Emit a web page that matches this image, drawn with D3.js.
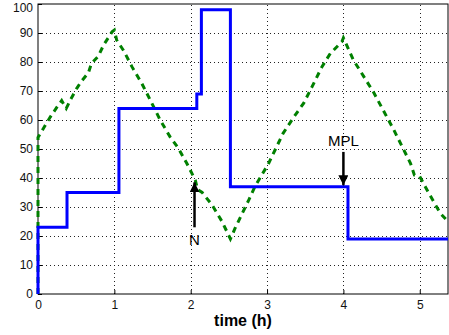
<!DOCTYPE html>
<html>
<head>
<meta charset="utf-8">
<script src="https://cdn.jsdelivr.net/npm/d3@7"></script>
<style>
  body { margin: 0; background: #fff; }
  svg { display: block; font-family: "Liberation Sans", Arial, sans-serif; }
</style>
</head>
<body>
<div id="chart"></div>
<script>
// tick labels
const xTicks = [0, 1, 2, 3, 4, 5];
const yTicks = [0, 10, 20, 30, 40, 50, 60, 70, 80, 90, 100];

// blue staircase (step after)
const blueTime = [0, 0, 0.38, 1.06, 2.08, 2.14, 2.52, 4.06, 5.37];
const blueValue = [0, 23, 35, 64, 69, 98, 37, 19, 19];

// green dashed curve
const greenTime = [0, 0, 0.16, 0.25, 0.31, 0.37, 0.44, 0.51, 0.57, 0.66, 0.70, 0.79, 0.86, 0.97, 1.0,
  1.03, 1.12, 1.23, 1.36, 1.47, 1.60, 1.73, 1.84, 1.95, 2.06, 2.09, 2.15, 2.28, 2.41, 2.52,
  2.58, 2.76, 2.84, 3.02, 3.21, 3.35, 3.48, 3.59, 3.72, 3.83, 3.98, 4.0,
  4.13, 4.39, 4.66, 4.88, 4.93, 5.0, 5.12, 5.27, 5.37];
const greenValue = [0, 54, 61, 64.5, 66.7, 64, 67.7, 71, 73.4, 76.3, 79.5, 82, 85.9, 90.4, 91,
  87.6, 84, 78.4, 72.6, 66.9, 60, 54.2, 50.2, 45, 39.3, 36, 35, 30.7, 25, 19,
  22.6, 32.4, 37, 45, 55.4, 61, 65.8, 71.5, 78.4, 83, 87, 88.3,
  80.7, 69.8, 56.6, 45, 41, 40.5, 34.7, 27.8, 25];

// annotations
const notes = [
  { label: 'N', t: 2.05, from: 23, to: 38.5, textAt: 17 },
  { label: 'MPL', t: 4.0, from: 49, to: 37.5, textAt: 51 }
];

const width = 449, height = 335;
const margin = { top: 4, right: 1, bottom: 41, left: 38 };

const svg = d3.select('#chart').append('svg')
  .attr('width', width)
  .attr('height', height);

const x = d3.scaleLinear().domain([0, 5.37]).range([margin.left, width - margin.right]);
const y = d3.scaleLinear().domain([0, 100]).range([height - margin.bottom, margin.top]);

svg.append('defs').append('marker')
  .attr('id', 'head')
  .attr('viewBox', '0 0 10 10')
  .attr('refX', 10).attr('refY', 5)
  .attr('markerWidth', 4).attr('markerHeight', 4)
  .attr('markerUnits', 'strokeWidth')
  .attr('orient', 'auto')
  .append('path')
  .attr('d', 'M0,0 L10,5 L0,10 Z')
  .attr('fill', '#000');

// grid
const grid = svg.append('g')
  .attr('stroke', '#222')
  .attr('stroke-width', 1)
  .attr('stroke-dasharray', '1,3');
xTicks.filter(d => d > 0).forEach(d => {
  grid.append('line')
    .attr('x1', Math.round(x(d)) + 0.5).attr('x2', Math.round(x(d)) + 0.5)
    .attr('y1', y(0)).attr('y2', y(100));
});
yTicks.filter(d => d > 0 && d < 100).forEach(d => {
  grid.append('line')
    .attr('x1', x(0)).attr('x2', x.range()[1])
    .attr('y1', Math.round(y(d)) + 0.5).attr('y2', Math.round(y(d)) + 0.5);
});

// axes
const xAxis = svg.append('g')
  .attr('transform', `translate(0,${y(0)})`)
  .call(d3.axisBottom(x).tickValues(xTicks).tickSize(-4).tickPadding(6).tickFormat(d3.format('d')));
const yAxis = svg.append('g')
  .attr('transform', `translate(${x(0)},0)`)
  .call(d3.axisLeft(y).tickValues(yTicks).tickSize(-4).tickPadding(5));
[xAxis, yAxis].forEach(a => {
  a.select('.domain').remove();
  a.selectAll('text').style('font-size', '12px').attr('fill', '#111');
});
// keep the top label inside the page
yAxis.selectAll('.tick text').filter(d => d === 100).attr('dy', '0.6em');

// box
svg.append('rect')
  .attr('x', x(0)).attr('y', y(100))
  .attr('width', x.range()[1] - x(0)).attr('height', y(0) - y(100))
  .attr('fill', 'none').attr('stroke', '#000').attr('stroke-width', 1);

// green dashed series
const greenData = greenTime.map((t, i) => [t, greenValue[i]]);
svg.append('path')
  .datum(greenData)
  .attr('fill', 'none')
  .attr('stroke', '#008000')
  .attr('stroke-width', 3)
  .attr('stroke-dasharray', '6,5')
  .attr('d', d3.line().x(d => x(d[0])).y(d => y(d[1])));

// blue step series
const blueData = blueTime.map((t, i) => [t, blueValue[i]]);
svg.append('path')
  .datum(blueData)
  .attr('fill', 'none')
  .attr('stroke', '#0000ff')
  .attr('stroke-width', 3)
  .attr('d', d3.line().x(d => x(d[0])).y(d => y(d[1])).curve(d3.curveStepAfter));

// annotations
notes.forEach(n => {
  svg.append('line')
    .attr('x1', x(n.t)).attr('x2', x(n.t))
    .attr('y1', y(n.from)).attr('y2', y(n.to))
    .attr('stroke', '#000').attr('stroke-width', 2.5)
    .attr('marker-end', 'url(#head)');
  svg.append('text')
    .attr('x', x(n.t)).attr('y', y(n.textAt))
    .attr('text-anchor', 'middle')
    .style('font-size', '15px')
    .attr('fill', '#000')
    .text(n.label);
});

// x label
svg.append('text')
  .attr('x', (x.range()[0] + x.range()[1]) / 2)
  .attr('y', 326)
  .attr('text-anchor', 'middle')
  .style('font-size', '16px')
  .style('font-weight', 'bold')
  .text('time (h)');
</script>
</body>
</html>
